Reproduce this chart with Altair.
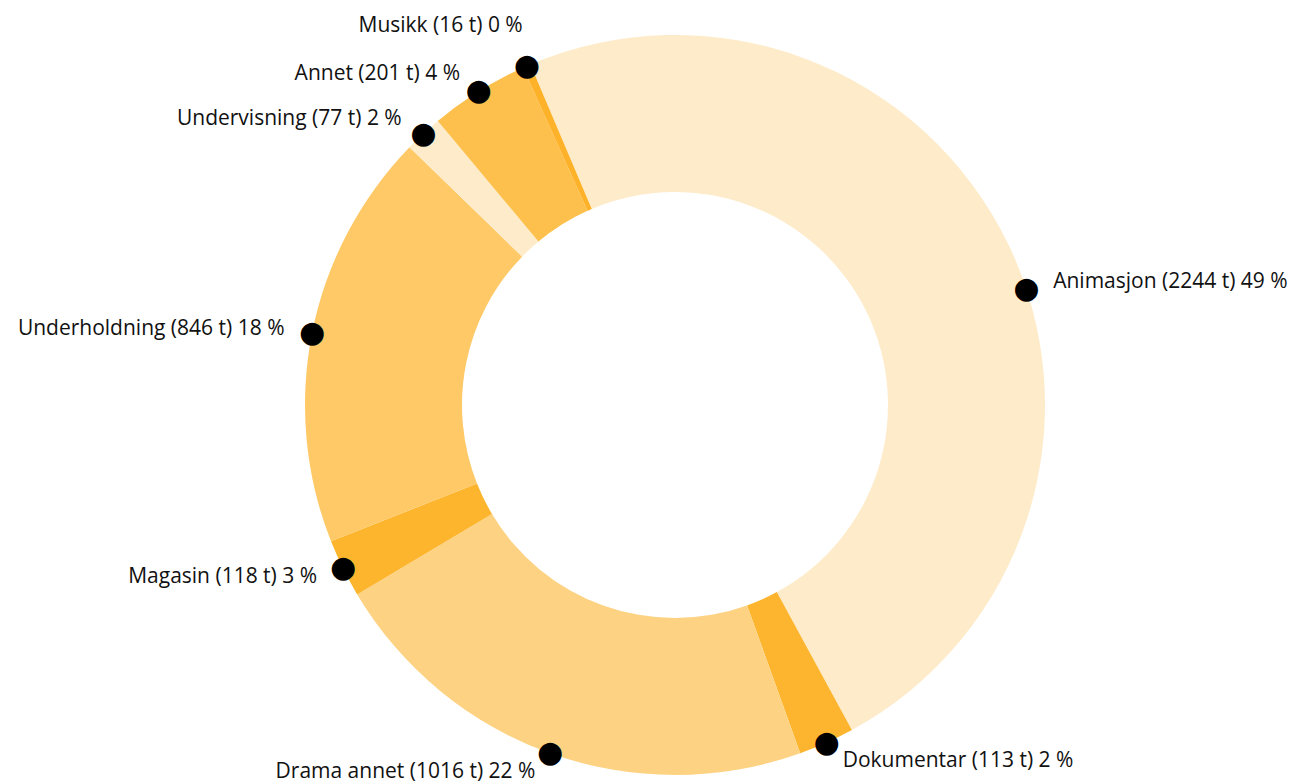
import altair as alt
import pandas as pd
import math

categories = ["Animasjon", "Dokumentar", "Drama annet", "Magasin",
              "Underholdning", "Undervisning", "Annet", "Musikk"]
hours = [2244, 113, 1016, 118, 846, 77, 201, 16]
percents = [49, 2, 22, 3, 18, 2, 4, 0]
colors = ["#FEEBC9", "#FDB52F", "#FDD383", "#FDB52D",
          "#FEC966", "#FEEBC9", "#FEC04C", "#FDB22A"]
sides = ["right", "right", "left", "left", "left", "left", "left", "left"]

df = pd.DataFrame({
    "cat": categories,
    "hours": hours,
    "pct": percents,
    "side": sides,
})
df["label"] = [f"{c} ({h} t) {p} %" for c, h, p in zip(categories, hours, percents)]
df["cum_end"] = df["hours"].cumsum()
df["cum_start"] = df["cum_end"] - df["hours"]
df["mid"] = (df["cum_start"] + df["cum_end"]) / 2

total = float(sum(hours))
start = math.radians(-23)
theta_scale = alt.Scale(domain=[0, total], range=[start, start + 2 * math.pi])

CX, CY = 667, 397

base = alt.Chart(df)
theta_mid = alt.Theta("mid:Q", scale=theta_scale)

arcs = base.mark_arc(outerRadius=370, innerRadius=213, x=CX, y=CY).encode(
    theta=alt.Theta("cum_start:Q", scale=theta_scale),
    theta2="cum_end:Q",
    color=alt.Color("cat:N", scale=alt.Scale(domain=categories, range=colors), legend=None),
)

dot_style = dict(text="\u25CF", font="DejaVu Sans", fontSize=30, color="black",
                 align="center", baseline="middle", x=CX, y=CY, radius=370)
text_common = dict(fontSize=21, font="Open Sans", color="#111111", baseline="middle",
                   x=CX, y=CY, radius=390)

is_big = alt.datum.cat == "Animasjon"
is_top = alt.datum.cat == "Musikk"

dots = base.transform_filter(~is_big).mark_text(**dot_style).encode(theta=theta_mid)
# the large slice's marker sits a little further round (label placement of the original)
dot_big = base.transform_filter(is_big).mark_text(thetaOffset=0.13, **dot_style).encode(theta=theta_mid)

labels_left = base.transform_filter(
    (alt.datum.side == "left") & (~is_top)
).mark_text(align="right", dx=-8, **text_common).encode(theta=theta_mid, text="label:N")
labels_lifted = base.transform_filter(is_top).mark_text(
    align="right", dx=4, dy=-22, **text_common).encode(theta=theta_mid, text="label:N")
labels_right = base.transform_filter(
    (alt.datum.side == "right") & (~is_big)
).mark_text(align="left", dx=8, **text_common).encode(theta=theta_mid, text="label:N")
label_big = base.transform_filter(is_big).mark_text(
    align="left", dx=8, thetaOffset=0.13, **text_common).encode(theta=theta_mid, text="label:N")

chart = alt.layer(arcs, dots, dot_big, labels_left, labels_lifted, labels_right, label_big).properties(
    width=1299, height=776, padding=0, autosize="none"
).configure_view(stroke=None)

chart.save("out.html", embed_options={"renderer": "svg", "actions": False})
